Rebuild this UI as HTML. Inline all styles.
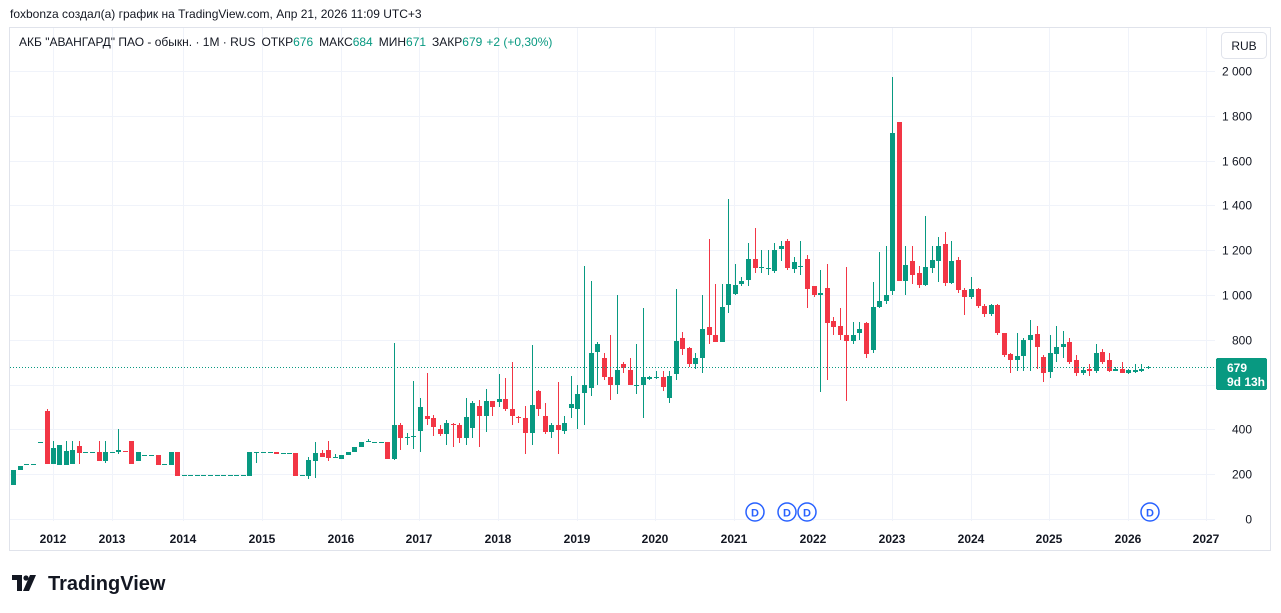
<!DOCTYPE html>
<html><head><meta charset="utf-8">
<style>
html,body{margin:0;padding:0;background:#fff;width:1281px;height:613px;overflow:hidden;font-family:"Liberation Sans","DejaVu Sans",sans-serif;}
svg{position:absolute;left:0;top:0}
</style></head>
<body>
<svg id="s" width="1281" height="613" xmlns="http://www.w3.org/2000/svg" font-family="Liberation Sans, DejaVu Sans, sans-serif" shape-rendering="crispEdges">
<text x="10" y="18" font-size="12" fill="#131722">foxbonza создал(а) график на TradingView.com, Апр 21, 2026 11:09 UTC+3</text>
<rect x="9.5" y="27.5" width="1261" height="523" fill="none" stroke="#e0e3eb"/>
<g id="grid"></g>
<g id="candles"></g>
<line x1="10" y1="367.5" x2="1215" y2="367.5" stroke="#089981" stroke-dasharray="1,2"/>
<text x="19" y="46" font-size="12" fill="#131722">АКБ "АВАНГАРД" ПАО - обыкн. · 1M · RUS<tspan dx="6">ОТКР</tspan><tspan fill="#089981">676</tspan><tspan dx="6">МАКС</tspan><tspan fill="#089981">684</tspan><tspan dx="6">МИН</tspan><tspan fill="#089981">671</tspan><tspan dx="6">ЗАКР</tspan><tspan fill="#089981">679</tspan><tspan dx="4" fill="#089981">+2 (+0,30%)</tspan></text>
<rect x="1221.5" y="32.5" width="45" height="26" rx="4" fill="#fff" stroke="#e0e3eb" shape-rendering="auto"/>
<text x="1244" y="50" font-size="12" fill="#131722" text-anchor="middle">RUB</text>
<g id="ylab" font-size="12" fill="#131722" text-anchor="end"></g>
<rect x="1216" y="358" width="51" height="32" rx="2" fill="#089981"/>
<text x="1227" y="372" font-size="12" font-weight="bold" fill="#fff">679</text>
<text x="1227" y="386" font-size="12" font-weight="bold" fill="#fff">9d 13h</text>
<g id="xlab" font-size="12" font-weight="bold" fill="#131722" text-anchor="middle"></g>
<g id="divs" shape-rendering="auto"></g>
<g transform="translate(12,573)" shape-rendering="auto">
<path d="M0 2h10v16h-5v-11h-5z" fill="#131722"/>
<circle cx="14" cy="5" r="2.6" fill="#131722"/>
<path d="M18 2h6l-7 16h-6z" fill="#131722"/>
</g>
<text x="48" y="590" font-size="20" font-weight="bold" fill="#131722">TradingView</text>
</svg>
<script>
var NS="http://www.w3.org/2000/svg";
function el(p,t,a,txt){var e=document.createElementNS(NS,t);for(var k in a)e.setAttribute(k,a[k]);if(txt!==undefined)e.textContent=txt;document.getElementById(p).appendChild(e);return e;}
function Y(p){return 519-p*0.224;}
for(var v=0;v<=2000;v+=200){var y=Math.round(Y(v))+0.5;el("grid","line",{x1:10,x2:1215,y1:y,y2:y,stroke:"#f0f3fa"});el("ylab","text",{x:1252,y:y+4},v==0?"0":(v>=1000?(Math.floor(v/1000)+" "+String(v%1000).padStart(3,"0")):String(v)));}
var yrs=[[53,"2012"],[112,"2013"],[183,"2014"],[262,"2015"],[341,"2016"],[419,"2017"],[498,"2018"],[577,"2019"],[655,"2020"],[734,"2021"],[813,"2022"],[892,"2023"],[971,"2024"],[1049,"2025"],[1128,"2026"],[1206,"2027"]];
yrs.forEach(function(a){el("grid","line",{x1:a[0]+0.5,x2:a[0]+0.5,y1:28,y2:521,stroke:"#f0f3fa"});el("xlab","text",{x:a[0],y:543},a[1]);});
[755,787,807,1150].forEach(function(x){el("divs","circle",{cx:x,cy:512,r:9,fill:"#fff",stroke:"#2962ff","stroke-width":1.5});el("divs","text",{x:x,y:516.5,"font-size":11,"font-weight":"bold",fill:"#2962ff","text-anchor":"middle"},"D");});
var C=[[13,152,218],[20,218,236],[26,245,245],[33,245,245],[40,344,344],[47,482,245,490],[53,245,317,350],[59,241,330],[66,241,303,350],[72,245,308,350],[79,326,294,350,245],[85,299,299],[92,299,299],[99,299,259,350],[105,259,299,350,250],[112,299,299],[118,299,308,402,290],[125,305,303],[131,348,245],[138,259,299],[144,285,285],[151,285,285],[158,285,241],[164,245,245],[171,241,299],[177,299,192],
[184,196,196],[190,196,196],[197,196,196],[203,196,196],[210,196,196],[217,196,196],[223,196,196],[230,196,196],[236,196,196],[243,196,196],
[249,192,299],[256,299,299,300,250],[263,299,299],[270,299,299],[276,299,290],[283,294,294],[289,294,294],[295,294,192],[302,196,196],[308,192,263,275,180],[315,259,294,344,183],[322,294,277,310],[328,308,272,350,260],[335,277,277,290],[341,268,285],[348,285,299],[354,299,321],[361,321,343],[368,345,348,357],[374,344,344],[381,344,344],[387,344,268],
[394,268,420,786,262],[400,420,362,430,310],[407,360,365,385,330],[413,372,372,616,312],[420,393,500,540,300],[427,460,445,652,420],[433,450,410,465,370],[440,402,380,420,370],[446,380,428,440,330],[453,425,418,428,320],[459,420,362,430,340],[466,362,455,540,330],[472,406,517,525,360],[479,503,460,530,320],[486,460,525,580,390],[492,525,500,525,460],[499,522,535,647,500],[505,535,490,630,480],[512,492,460,700,420],[518,457,450,460,430],[525,452,382,505,290],[532,382,507,777,330],[538,570,490,575,460],[545,460,390,520,380],[551,390,418,430,360],[558,418,397,610,290],[564,395,430,460,380],[571,496,512,640,450],[577,493,560,600,400],[584,561,596,1129,420],[591,585,741,1062,550],[597,746,781,790,600],[604,719,634,740,620],[610,634,600,820,530],[617,600,667,1000,560],[623,690,676,700,650],[630,667,600,720,600],[636,600,600,780,560],[643,600,634,940,450],[649,625,634,640,620],[656,636,636,660,625],[663,634,591,660,570],[669,540,640,660,520],[676,647,795,1026,620],[682,808,760,835,730],[689,764,692,770,680],[695,692,719,740,670],[702,719,848,1000,650],[709,857,822,1250,780],[715,822,792,1050,790],[722,792,948,1050,790],[728,955,1049,1430,920],[735,1004,1045,1140,1000],[741,1049,1062,1080,1040],[748,1067,1160,1230,1040],[755,1160,1120,1300,1100],[761,1123,1123,1200,1100],[768,1120,1120,1200,1090],[774,1107,1200,1230,1100],[781,1204,1220,1240,1150],[787,1240,1120,1250,1110],[794,1115,1146,1170,1100],[800,1129,1129,1240,1090],[807,1160,1027,1180,940],[814,1040,1000,1040,990],[820,1000,1009,1110,567],[827,1031,875,1140,620],[833,884,857,900,820],[840,860,822,940,800],[846,822,795,1125,527],[853,795,822,880,780],[859,830,848,880,800],[866,875,737,880,720],[873,754,946,1060,740],[879,946,973,1190,940],[886,973,1000,1220,960],[892,1017,1723,1973,1000],[899,1772,1062,1772,1062],[905,1062,1133,1220,1000],[912,1150,1089,1220,1050],[919,1100,1045,1130,1030],[925,1045,1125,1352,1040],[932,1120,1155,1220,1100],[938,1153,1220,1260,1060],[945,1228,1052,1280,1040],[951,1052,1153,1240,1050],[958,1155,1022,1170,1010],[964,1022,992,1030,910],[971,992,1027,1080,980],[978,1027,952,1030,940],[984,952,914,960,900],[991,914,955,960,905],[997,955,830,960,820],[1004,830,730,830,725],[1010,737,711,740,650],[1017,711,728,830,660],[1023,728,800,810,660],[1030,800,820,890,660],[1037,825,768,860,670],[1043,722,653,730,610],[1050,655,740,820,630],[1056,737,767,860,700],[1063,768,780,840,720],[1069,788,700,810,690],[1076,708,653,730,640],[1083,653,667,680,645],[1089,671,662,690,640],[1096,662,740,780,650],[1102,745,702,760,690],[1109,708,662,740,655],[1115,662,671,680,660],[1122,671,653,700,650],[1128,653,667,670,648],[1135,658,667,690,650],[1141,662,671,690,655],[1148,676,679,684,671]];
C.forEach(function(c){var x=c[0],o=c[1],cl=c[2];var h=c[3]!==undefined?c[3]:Math.max(o,cl),l=c[4]!==undefined?c[4]:Math.min(o,cl);
var col=cl>=o?"#089981":"#f23645";
var yh=Math.round(Y(h)),yl=Math.round(Y(l));if(yl-yh>=1)el("candles","rect",{x:x,y:yh,width:1,height:yl-yh,fill:col});
var yt=Math.round(Y(Math.max(o,cl))),yb=Math.round(Y(Math.min(o,cl)));var hh=Math.max(1,yb-yt);
el("candles","rect",{x:x-2,y:yt,width:5,height:hh,fill:col});});
</script>
</body></html>
